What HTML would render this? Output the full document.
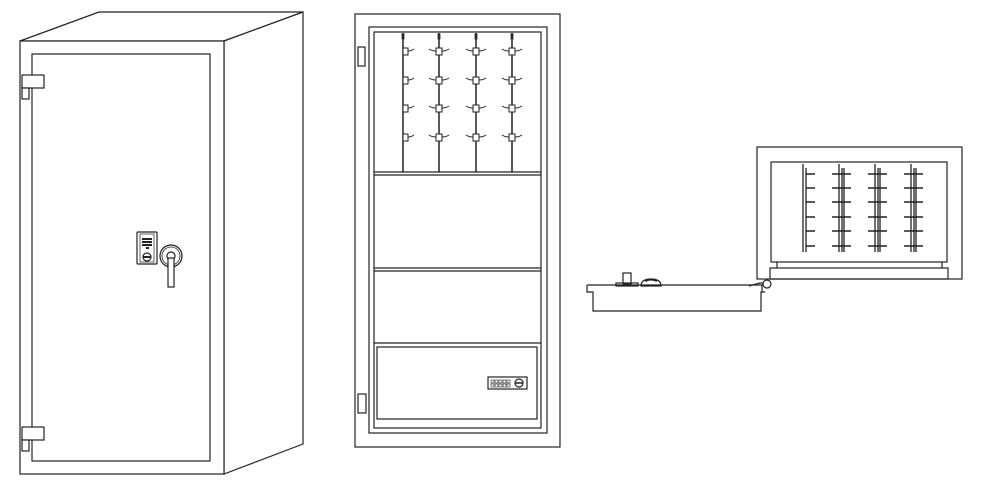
<!DOCTYPE html>
<html><head><meta charset="utf-8"><style>html,body{margin:0;padding:0;background:#fff}svg{display:block}</style></head>
<body>
<svg width="990" height="485" viewBox="0 0 990 485" xmlns="http://www.w3.org/2000/svg" fill="none" stroke="#222" stroke-width="1.2">
<!-- Left safe -->
<polygon points="20,41 99,12 303,12 224,41" fill="#fff"/>
<polygon points="224,41 303,12 303,444 224,474" fill="#fff"/>
<rect x="20" y="41" width="204" height="433" fill="#fff"/>
<rect x="32" y="54" width="178" height="407"/>
<rect x="22" y="75" width="22" height="13" fill="#fff"/>
<rect x="22" y="88" width="7" height="11" fill="#fff"/>
<rect x="22" y="427" width="22" height="13" fill="#fff"/>
<rect x="22" y="440" width="7" height="11" fill="#fff"/>
<rect x="137" y="232" width="20" height="32" rx="1"/>
<rect x="140" y="234" width="14" height="28" stroke-width="0.7"/>
<g fill="#222" stroke="none">
<rect x="142" y="238" width="10" height="2"/><rect x="142" y="241" width="10" height="2"/><rect x="142" y="244" width="10" height="2"/><rect x="146" y="247" width="3" height="2"/>
</g>
<circle cx="147" cy="257" r="4"/><line x1="143" y1="257" x2="151" y2="257" stroke-width="2"/>
<circle cx="171" cy="256" r="11"/><circle cx="171" cy="256" r="9" stroke-width="0.8"/>
<circle cx="171" cy="256" r="4" fill="#fff"/>
<rect x="168" y="258" width="6" height="29" fill="#fff"/>
<!-- Middle safe -->
<rect x="355" y="14" width="205" height="433"/>
<rect x="369" y="27" width="178" height="406"/>
<rect x="374" y="32" width="167" height="396"/>
<rect x="358" y="47" width="7" height="19"/>
<rect x="358" y="394" width="8" height="19"/>
<line x1="374" y1="172" x2="541" y2="172"/><line x1="374" y1="175" x2="541" y2="175"/>
<line x1="374" y1="268" x2="541" y2="268"/><line x1="374" y1="271" x2="541" y2="271"/>
<line x1="374" y1="343" x2="541" y2="343"/>
<rect x="377" y="347" width="160" height="72"/>
<rect x="488" y="377" width="39" height="12"/>
<g stroke-width="0.6">
<rect x="491" y="380" width="3" height="3"/><rect x="495" y="380" width="3" height="3"/><rect x="499" y="380" width="3" height="3"/><rect x="503" y="380" width="3" height="3"/><rect x="507" y="380" width="3" height="3"/>
<rect x="491" y="384" width="3" height="3"/><rect x="495" y="384" width="3" height="3"/><rect x="499" y="384" width="3" height="3"/><rect x="503" y="384" width="3" height="3"/><rect x="507" y="384" width="3" height="3"/>
</g>
<circle cx="519" cy="383" r="4"/><line x1="515" y1="383" x2="523" y2="383" stroke-width="1.5"/>
<g stroke-width="1.5">
<line x1="403" y1="33" x2="403" y2="172"/><line x1="439" y1="33" x2="439" y2="172"/><line x1="476" y1="33" x2="476" y2="172"/><line x1="512" y1="33" x2="512" y2="172"/>
</g>
<defs><g id="h"><rect x="-3" y="-3" width="6" height="7" fill="#fff" stroke-width="1"/><path d="M3,0 Q7,0 10,-2" stroke-width="1"/><path d="M-3,0 Q-7,0 -10,-2" stroke-width="1"/></g>
<g id="hl"><rect x="0" y="-3" width="5" height="7" fill="#fff" stroke-width="1"/><path d="M5,0 Q8,0 11,-2" stroke-width="1"/></g></defs>
<use href="#hl" x="403" y="51"/><use href="#hl" x="403" y="80"/><use href="#hl" x="403" y="108"/><use href="#hl" x="403" y="137"/>
<use href="#h" x="439" y="51"/><use href="#h" x="439" y="80"/><use href="#h" x="439" y="108"/><use href="#h" x="439" y="137"/>
<use href="#h" x="476" y="51"/><use href="#h" x="476" y="80"/><use href="#h" x="476" y="108"/><use href="#h" x="476" y="137"/>
<use href="#h" x="512" y="51"/><use href="#h" x="512" y="80"/><use href="#h" x="512" y="108"/><use href="#h" x="512" y="137"/>
<g stroke-width="0.8"><rect x="402" y="34" width="2" height="5"/><rect x="438" y="34" width="2" height="5"/><rect x="475" y="34" width="2" height="5"/><rect x="511" y="34" width="2" height="5"/></g>
<!-- Right safe -->
<rect x="757" y="147" width="205" height="132"/>
<rect x="771" y="162" width="176" height="100"/>
<line x1="777" y1="262" x2="777" y2="268"/><line x1="942" y1="262" x2="942" y2="268"/>
<rect x="770" y="268" width="178" height="11"/>
<g stroke-width="1.3">
<line x1="803" y1="164" x2="803" y2="252"/><line x1="806" y1="168" x2="806" y2="252"/>
<line x1="839" y1="164" x2="839" y2="252"/><line x1="842" y1="168" x2="842" y2="252"/><line x1="844" y1="168" x2="844" y2="252"/>
<line x1="875" y1="164" x2="875" y2="252"/><line x1="878" y1="168" x2="878" y2="252"/><line x1="880" y1="168" x2="880" y2="252"/>
<line x1="911" y1="164" x2="911" y2="252"/><line x1="914" y1="168" x2="914" y2="252"/><line x1="916" y1="168" x2="916" y2="252"/>
</g>
<g stroke-width="1.6">
<path d="M806 174h9M806 188h9M806 202h9M806 217h9M806 231h9M806 246h9"/>
<path d="M832 174h19M832 188h19M832 202h19M832 217h19M832 231h19M832 246h19"/>
<path d="M868 174h19M868 188h19M868 202h19M868 217h19M868 231h19M868 246h19"/>
<path d="M904 174h19M904 188h19M904 202h19M904 217h19M904 231h19M904 246h19"/>
</g>
<path d="M587 285 H762 V292 H763 M587 285 V292 H593 V311 H761 V292 H765"/>
<rect x="623" y="273" width="8" height="11"/>
<rect x="616" y="283" width="22" height="3"/>
<path d="M641 286 Q641 279 651 279 Q661 279 661 286 Z"/>
<path d="M645 281 Q651 278 657 281" stroke-width="2"/>
<path d="M749 286 L760 283 L766 283"/>
<circle cx="767" cy="284" r="4" fill="#fff"/>
</svg>
</body></html>
